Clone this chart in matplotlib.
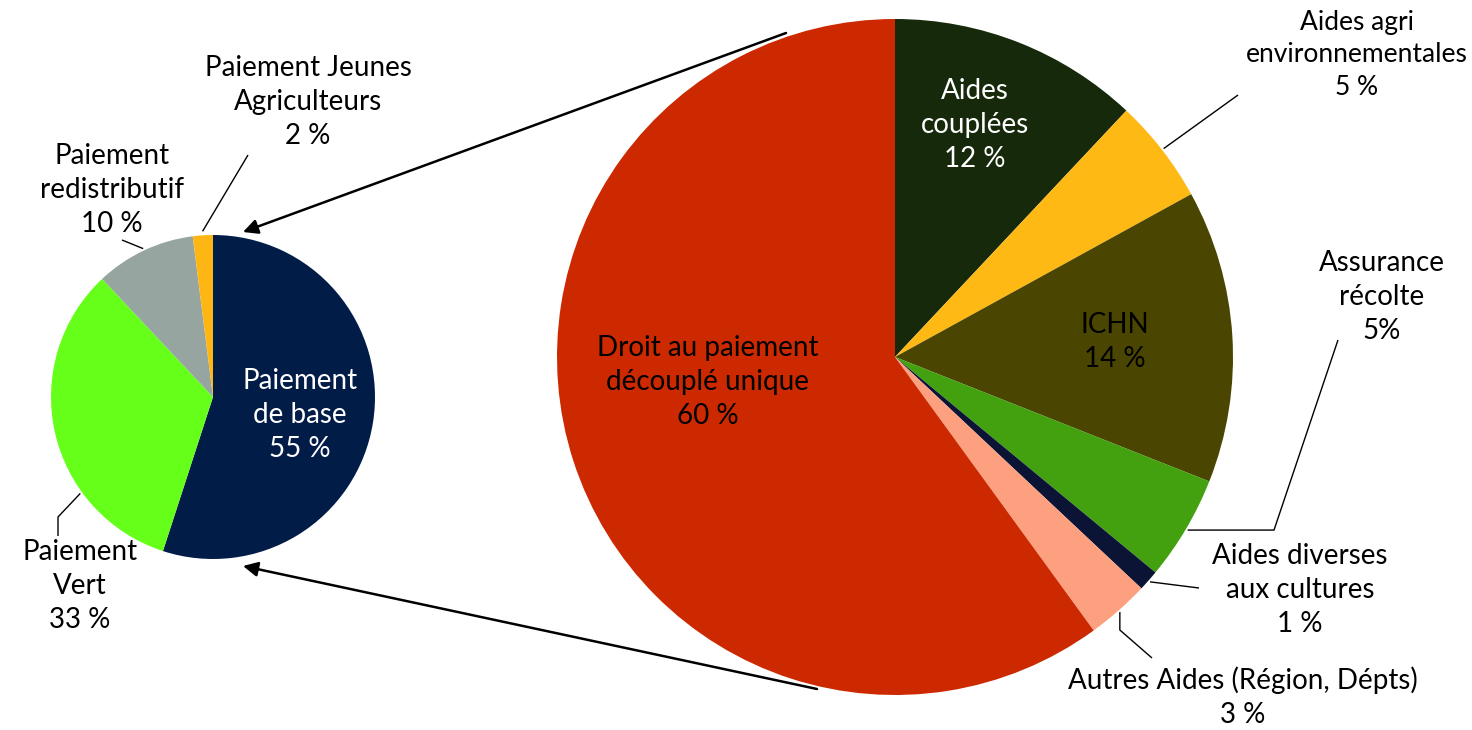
import numpy as np
import matplotlib.pyplot as plt

plt.rcParams['font.family'] = ['Lato', 'DejaVu Sans']

# big pie (aides PAC totales)
big_labels = ["Aides couplées", "Aides agri environnementales", "ICHN", "Assurance récolte",
              "Aides diverses aux cultures", "Autres Aides (Région, Dépts)",
              "Droit au paiement découplé unique"]
big_values = [12, 5, 14, 5, 1, 3, 60]
big_colors = ["#17290B", "#FFB915", "#4A4500", "#43A00E", "#0B1434", "#FCA080", "#CC2900"]

# small pie (detail DPU)
small_labels = ["Paiement de base", "Paiement Vert", "Paiement redistributif",
                "Paiement Jeunes Agriculteurs"]
small_values = [55, 33, 10, 2]
small_colors = ["#021C48", "#66FF1A", "#97A5A1", "#FDB614"]

W, H = 1472, 730
Y = lambda y: H - y  # pixel rows -> data y

fig = plt.figure(figsize=(W / 100, H / 100), dpi=100)
ax = fig.add_axes([0, 0, 1, 1])

big_c, big_r = (895, Y(357)), 338
small_c, small_r = (213, Y(397)), 162

big_w, _ = ax.pie(big_values, colors=big_colors, startangle=90, counterclock=False,
                  center=big_c, radius=big_r, wedgeprops=dict(linewidth=0))
small_w, _ = ax.pie(small_values, colors=small_colors, startangle=90, counterclock=False,
                    center=small_c, radius=small_r, wedgeprops=dict(linewidth=0))

ax.set_xlim(0, W)
ax.set_ylim(0, H)
ax.set_aspect('equal')
ax.axis('off')

FS = 20


def mid(w):
    return (w.theta1 + w.theta2) / 2


def edge(c, r, ang):
    a = np.deg2rad(ang)
    return c[0] + r * np.cos(a), c[1] + r * np.sin(a)


def lbl(x, y, s, color="black", fs=FS):
    ax.text(x, Y(y), s, ha='center', va='center', fontsize=fs, color=color, linespacing=1.38)


def leader(pts):
    xs = [p[0] for p in pts]
    ys = [p[1] for p in pts]
    ax.plot(xs, ys, color="black", lw=1, solid_capstyle='butt')


# labels inside slices
lbl(975, 125, f"Aides\ncouplées\n{big_values[0]} %", "white")
lbl(1115, 342, f"ICHN\n{big_values[2]} %")
lbl(708, 382, f"Droit au paiement\ndécouplé unique\n{big_values[6]} %")
lbl(300, 415, f"Paiement\nde base\n{small_values[0]} %", "white")

# outside labels + leaders
lbl(1357, 55, f"Aides agri\nenvironnementales\n{big_values[1]} %", fs=19)
leader([edge(big_c, big_r + 2, mid(big_w[1])), (1238, Y(95))])

lbl(1382, 297, f"Assurance\nrécolte\n{big_values[3]}%")
p = edge(big_c, big_r + 2, mid(big_w[3]))
leader([p, (1274, p[1]), (1338, Y(340))])

lbl(1300, 590, f"Aides diverses\naux cultures\n{big_values[4]} %")
leader([edge(big_c, big_r + 2, mid(big_w[4])), (1199, Y(588))])

lbl(1243, 697, f"Autres Aides (Région, Dépts)\n{big_values[5]} %")
p = edge(big_c, big_r + 2, mid(big_w[5]))
leader([p, (p[0], Y(630)), (1152, Y(658))])

lbl(308, 102, f"Paiement Jeunes\nAgriculteurs\n{small_values[3]} %")
leader([edge(small_c, small_r + 4, mid(small_w[3])), (248, Y(155))])

lbl(112, 190, f"Paiement\nredistributif\n{small_values[2]} %")
leader([edge(small_c, small_r + 2, mid(small_w[2])), (122, Y(240))])

lbl(80, 586, f"Paiement\nVert\n{small_values[1]} %")
p = edge(small_c, small_r + 2, 216)
leader([p, (58, Y(517)), (58, Y(536))])

# arrows from big pie to small pie
arr = dict(arrowstyle='-|>', color='black', lw=1.8, mutation_scale=22, shrinkA=0, shrinkB=0)
ax.annotate("", xy=(243, Y(232)), xytext=(786, Y(33)), arrowprops=arr)
ax.annotate("", xy=(243, Y(566)), xytext=(817, Y(689)), arrowprops=arr)

fig.savefig("out.png", dpi=100)
